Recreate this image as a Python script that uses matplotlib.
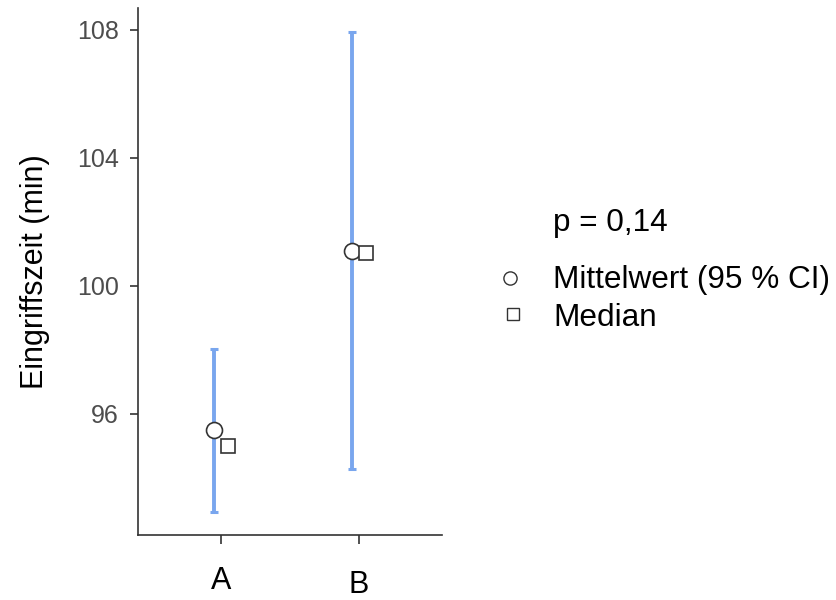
import matplotlib
matplotlib.use("Agg")
import matplotlib.pyplot as plt
import matplotlib.transforms as mtransforms
from matplotlib.lines import Line2D

plt.rcParams['font.family'] = ['Liberation Sans', 'DejaVu Sans']

# Data
groups = ["A", "B"]
means = [95.50, 101.09]
ci_low = [92.94, 94.28]
ci_high = [98.03, 107.92]
medians = [95.00, 101.03]
yticks = [96, 100, 104, 108]
p_text = "p = 0,14"
legend_labels = ["Mittelwert (95 % CI)", "Median"]

dodge = 0.05
spine_col = "#333333"
bar_col = "#79A6EE"

fig = plt.figure(figsize=(8.37, 6.0), dpi=100)
ax = fig.add_axes([0.1649, 0.1083, 0.3632, 0.8783])

xs = list(range(1, len(groups) + 1))
xm = [x - dodge for x in xs]
xd = [x + dodge for x in xs]
yerr = [[m - lo for m, lo in zip(means, ci_low)],
        [hi - m for m, hi in zip(means, ci_high)]]

ax.errorbar(xm, means, yerr=yerr, fmt="none", ecolor=bar_col,
            elinewidth=2.8, capsize=3.0, capthick=2.2, zorder=2)
ax.plot(xm, means, "o", ms=11.5, mfc="white", mec=spine_col, mew=1.2,
        ls="none", zorder=3)
ax.plot(xd, medians, "s", ms=10.5, mfc="white", mec=spine_col, mew=1.2,
        ls="none", zorder=3)

ax.set_xlim(0.4, 2.6)
ax.set_ylim(92.22, 108.67)
ax.set_xticks(xs)
ax.set_xticklabels(groups)
ax.set_yticks(yticks)
ax.set_yticklabels([str(t) for t in yticks])

for s in ["top", "right"]:
    ax.spines[s].set_visible(False)
for s in ["left", "bottom"]:
    ax.spines[s].set_color(spine_col)
    ax.spines[s].set_linewidth(1.2)

ax.tick_params(axis="y", length=6, width=1.2, color=spine_col,
               labelsize=18, labelcolor="#4d4d4d", pad=8)
ax.tick_params(axis="x", length=6.5, width=1.2, color=spine_col,
               labelsize=22, labelcolor="black", pad=16)

# second category label sits a little lower
lbl_b = ax.get_xticklabels()[1]
lbl_b.set_transform(lbl_b.get_transform() +
                    mtransforms.ScaledTranslation(0, -4 / 100, fig.dpi_scale_trans))

ax.set_ylabel("Eingriffszeit (min)", fontsize=22, color="black", labelpad=19)

# Legend block
fig.text(553 / 837, 1 - 223 / 600, p_text, fontsize=22.7, va="center", ha="left")
fig.text(553 / 837, 1 - 280 / 600, legend_labels[0], fontsize=22.7,
         va="center", ha="left")
fig.text(553 / 837, 1 - 318 / 600, legend_labels[1], fontsize=22.7,
         va="center", ha="left")
fig.add_artist(Line2D([510 / 837], [1 - 278 / 600], marker="o", ms=9.5,
                      mfc="white", mec=spine_col, mew=1.0, ls="none",
                      transform=fig.transFigure))
fig.add_artist(Line2D([513 / 837], [1 - 314 / 600], marker="s", ms=8.8,
                      mfc="white", mec=spine_col, mew=1.0, ls="none",
                      transform=fig.transFigure))

fig.savefig("out.png", dpi=100, facecolor="white")
